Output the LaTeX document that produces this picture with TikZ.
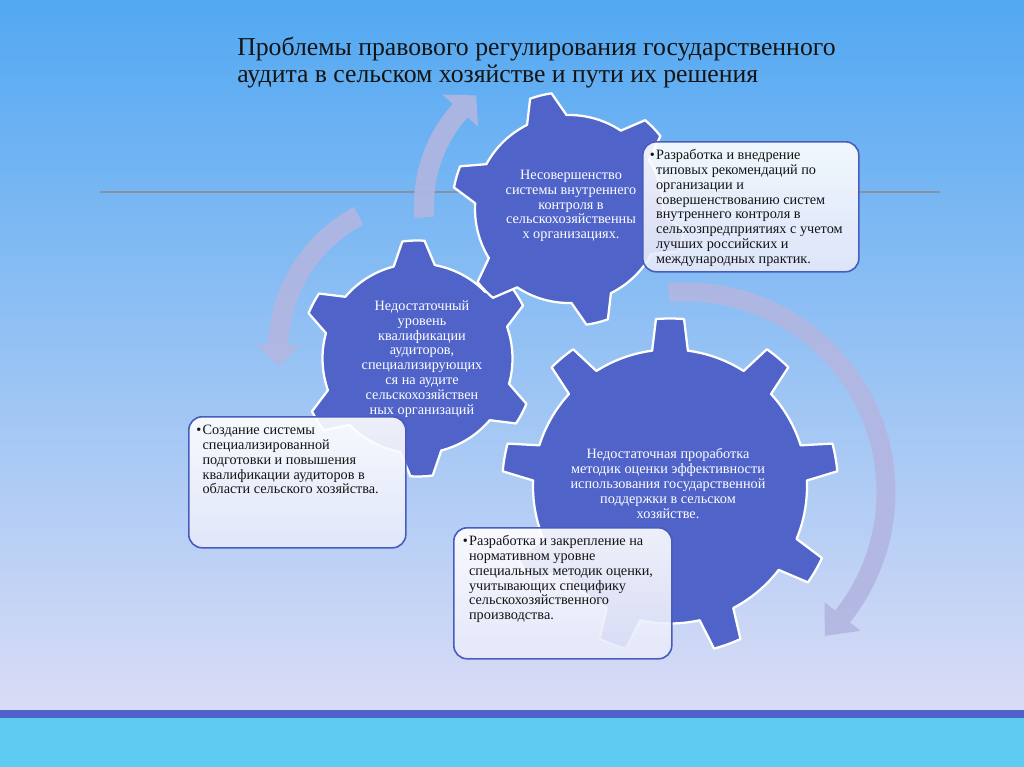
\documentclass[tikz,border=0pt]{standalone}
\usepackage{fontspec}
\setmainfont{Liberation Serif}
\definecolor{gearblue}{RGB}{79,99,200}
\definecolor{arrowcol}{RGB}{178,182,225}
\definecolor{bgtop}{RGB}{82,168,242}
\definecolor{bgmid}{RGB}{160,190,240}
\definecolor{bgbot}{RGB}{218,220,246}
\definecolor{stripecol}{RGB}{78,98,200}
\definecolor{cyanband}{RGB}{94,204,242}
\definecolor{boxborder}{RGB}{72,92,192}
\definecolor{boxbot}{RGB}{230,233,250}
\definecolor{rulegray}{RGB}{135,145,165}
\definecolor{titlecol}{RGB}{20,20,20}
\newcommand{\gearshape}[8]{% cx cy n R r tiphalf basehalf phase
\begin{scope}[shift={(#1,#2)}]
\pgfmathsetmacro{\gstep}{360/#3}
\pgfmathtruncatemacro{\glast}{#3-1}
\filldraw[gearstyle] ({-#8-#7}:#5)
 \foreach \k in {0,...,\glast}{
   -- ({-#8+\k*\gstep-#6}:#4)
   arc[start angle={-#8+\k*\gstep-#6}, end angle={-#8+\k*\gstep+#6}, radius=#4]
   -- ({-#8+\k*\gstep+#7}:#5)
   arc[start angle={-#8+\k*\gstep+#7}, end angle={-#8+(\k+1)*\gstep-#7}, radius=#5]
 } -- cycle;
\end{scope}}
\newcommand{\circarrow}[8]{% cx cy r bandhalf headhalf a1 a2 a3
\begin{scope}[shift={(#1,#2)}]
\fill[arrowstyle] ({#6}:{#3+#4}) arc[start angle={#6}, end angle={#7}, radius={#3+#4}]
  -- ({#7}:{#3+#5}) -- ({#8}:{#3}) -- ({#7}:{#3-#5}) -- ({#7}:{#3-#4})
  arc[start angle={#7}, end angle={#6}, radius={#3-#4}] -- cycle;
\end{scope}}
\begin{document}
\begin{tikzpicture}[x=0.75pt, y=-0.75pt,
  gearstyle/.style={fill=gearblue, draw=white, line width=1.7pt, line join=round},
  arrowstyle/.style={fill=arrowcol, fill opacity=0.9},
  solbox/.style={draw=boxborder, line width=1.2pt, rounded corners=10pt, top color=white, bottom color=boxbot, fill opacity=0.9, anchor=north west, inner sep=0pt},
  geartext/.style={text=white, align=center, inner sep=0pt, font=\fontsize{10.7}{11.1}\selectfont},
  soltext/.style={text=titlecol, anchor=north west, inner sep=0pt, font=\fontsize{10.7}{11.1}\selectfont}]
\useasboundingbox (0,0) rectangle (1024,767);
% background
\fill[top color=bgtop, middle color=bgmid, bottom color=bgbot] (0,0) rectangle (1024,710);
\fill[stripecol] (0,710) rectangle (1024,718);
\fill[cyanband] (0,718) rectangle (1024,767);
\coordinate (ruleL) at (100,192);
\coordinate (ruleR) at (940,192);
\draw[rulegray, line width=0.8pt] (ruleL) -- (ruleR);
% arrows
\circarrow{565}{205}{141}{10}{24}{-185}{-138}{-129}
\circarrow{430}{350}{152}{10}{22}{-118}{-178}{-186}
\circarrow{686}{492}{200}{9.5}{23}{-95}{38.5}{46}
% gears
\gearshape{670}{486.5}{9}{168}{137}{4.8}{7.5}{10}
\gearshape{417.5}{358.5}{6}{118}{95}{5.4}{12.5}{32}
\gearshape{569}{209}{6}{117}{94}{5.4}{12.5}{44}
% gear texts
\node[geartext] (g1) at (571,206) {Несовершенство\\системы внутреннего\\контроля в\\сельскохозяйственны\\х организациях.};
\node[geartext] (g2) at (422,359) {Недостаточный\\уровень\\квалификации\\аудиторов,\\специализирующих\\ся на аудите\\сельскохозяйствен\\ных организаций};
\node[geartext] (g3) at (668,483.5) {Недостаточная проработка\\методик оценки эффективности\\использования государственной\\поддержки в сельском\\хозяйстве.};
% solution boxes
\node[solbox, minimum width=216*0.75pt, minimum height=130*0.75pt] (b1) at (642,141) {};
\node[solbox, minimum width=217*0.75pt, minimum height=131*0.75pt] (b2) at (188,416) {};
\node[solbox, minimum width=218*0.75pt, minimum height=131*0.75pt] (b3) at (453,527) {};
\node[soltext] (s1) at (649.5,149) {\begin{tabular}{@{}l@{\hspace{1pt}}l@{}}•&Разработка и внедрение\\&типовых рекомендаций по\\&организации и\\&совершенствованию систем\\&внутреннего контроля в\\&сельхозпредприятиях с учетом\\&лучших российских и\\&международных практик.\end{tabular}};
\node[soltext] (s2) at (196,424) {\begin{tabular}{@{}l@{\hspace{1pt}}l@{}}•&Создание системы\\&специализированной\\&подготовки и повышения\\&квалификации аудиторов в\\&области сельского хозяйства.\end{tabular}};
\node[soltext] (s3) at (462.5,535) {\begin{tabular}{@{}l@{\hspace{1pt}}l@{}}•&Разработка и закрепление на\\&нормативном уровне\\&специальных методик оценки,\\&учитывающих специфику\\&сельскохозяйственного\\&производства.\end{tabular}};
% title
\node[anchor=base west, align=left, inner sep=0pt, text=titlecol, font=\fontsize{19.3}{20.3}\selectfont] (title) at (237,83) {Проблемы правового регулирования государственного\\аудита в сельском хозяйстве и пути их решения};
\end{tikzpicture}
\end{document}
